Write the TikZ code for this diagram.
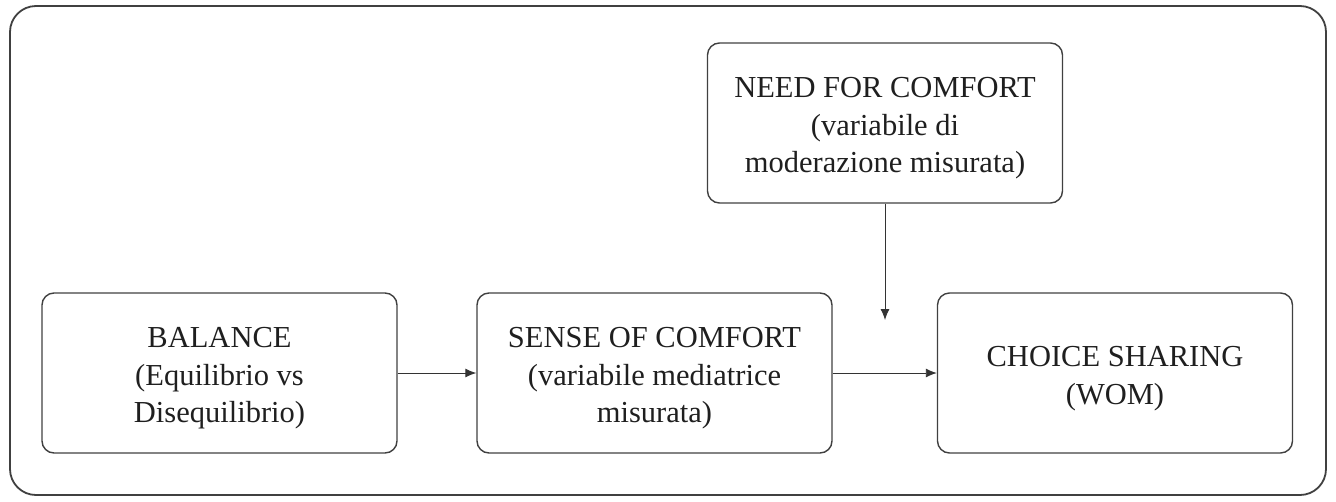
\documentclass[tikz,border=0pt]{standalone}
\usepackage{fontspec}
\setmainfont{Liberation Serif}
\usetikzlibrary{arrows.meta}
% extra room above the first line, so the text sits a little lower in its box
\newcommand{\topstrut}{\rule{0pt}{31pt}}
\begin{document}
\begin{tikzpicture}[x=1pt,y=-1pt,
  frame/.style={draw=black!75, line width=1.8pt, rounded corners=26pt},
  box/.style={draw=black!75, line width=1.4pt, rounded corners=12pt,
    minimum width=355pt, minimum height=160pt, align=center,
    font=\fontsize{30.5}{37.5}\selectfont, text=black!88},
  link/.style={draw=black!80, line width=0.9pt, -{Latex[length=11pt,width=9pt]}}]
  \useasboundingbox (0,0) rectangle (1336,501);
  % outer frame
  \draw[frame] (10,6) rectangle (1326,495);
  % variables
  \node[box] (bal)  at (219.5,373) {\topstrut BALANCE\\(Equilibrio vs\\Disequilibrio)};
  \node[box] (sense) at (654.5,373) {\topstrut SENSE OF COMFORT\\(variabile mediatrice\\misurata)};
  \node[box] (wom)  at (1115,373) {\topstrut CHOICE SHARING\\(WOM)};
  \node[box] (need) at (885,123) {\topstrut NEED FOR COMFORT\\(variabile di\\moderazione misurata)};
  % moderation points at the sense-to-WOM path
  \coordinate (mod) at (885,320);
  % paths
  \draw[link] (bal) -- (sense);
  \draw[link] (sense) -- (wom);
  \draw[link] (need.south -| mod) -- (mod);
\end{tikzpicture}
\end{document}
